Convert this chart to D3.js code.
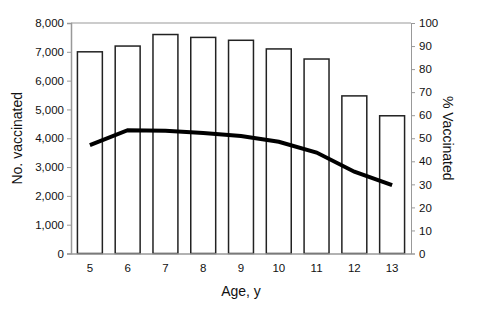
<!DOCTYPE html>
<html>
<head>
<meta charset="utf-8">
<script src="https://cdn.jsdelivr.net/npm/d3@7"></script>
<style>
  body { margin: 0; background: #fff; }
  svg { font-family: "Liberation Sans", Arial, sans-serif; }
  .axis text { font-size: 11.5px; fill: #111; }
  .axis path, .axis line { stroke: #999; }
  .title { font-size: 14px; fill: #111; }
</style>
</head>
<body>
<div id="chart"></div>
<script>
const ages = [5, 6, 7, 8, 9, 10, 11, 12, 13];
const vaccinated = [7000, 7200, 7600, 7500, 7400, 7100, 6750, 5470, 4780];
const pctVaccinated = [47, 53.5, 53.3, 52.3, 51, 48.5, 43.8, 35.5, 29.7];
const leftTicks = [0, 1000, 2000, 3000, 4000, 5000, 6000, 7000, 8000];
const rightTicks = [0, 10, 20, 30, 40, 50, 60, 70, 80, 90, 100];

const width = 480, height = 320;
const margin = { top: 23, right: 69, bottom: 66.5, left: 71 };
const w = width - margin.left - margin.right;
const h = height - margin.top - margin.bottom;

const svg = d3.select("#chart").append("svg")
    .attr("width", width)
    .attr("height", height);

const g = svg.append("g")
    .attr("transform", `translate(${margin.left},${margin.top})`);

const x = d3.scaleBand()
    .domain(ages)
    .range([0, w])
    .paddingInner(0.34)
    .paddingOuter(0.17);

const yLeft = d3.scaleLinear().domain([0, 8000]).range([h, 0]);
const yRight = d3.scaleLinear().domain([0, 100]).range([h, 0]);

// plot frame top line
g.append("line")
    .attr("x1", 0).attr("x2", w)
    .attr("y1", 0).attr("y2", 0)
    .attr("stroke", "#999");

g.selectAll(".bar")
    .data(ages)
    .enter().append("rect")
    .attr("class", "bar")
    .attr("x", d => x(d))
    .attr("y", (d, i) => yLeft(vaccinated[i]))
    .attr("width", x.bandwidth())
    .attr("height", (d, i) => h - yLeft(vaccinated[i]))
    .attr("fill", "#fff")
    .attr("stroke", "#222")
    .attr("stroke-width", 1.5);

g.append("g")
    .attr("class", "axis")
    .call(d3.axisLeft(yLeft)
        .tickValues(leftTicks)
        .tickSize(4)
        .tickPadding(3)
        .tickFormat(d3.format(",")))
    .call(a => a.select(".domain").attr("stroke-width", 1.5));

g.append("g")
    .attr("class", "axis")
    .attr("transform", `translate(${w},0)`)
    .call(d3.axisRight(yRight)
        .tickValues(rightTicks)
        .tickSize(4)
        .tickPadding(4));

g.append("g")
    .attr("class", "axis")
    .attr("transform", `translate(0,${h})`)
    .call(d3.axisBottom(x).tickSize(0).tickPadding(10))
    .call(a => a.select(".domain").attr("stroke-width", 1.5));

const line = d3.line()
    .x((d, i) => x(ages[i]) + x.bandwidth() / 2)
    .y(d => yRight(d));

g.append("path")
    .datum(pctVaccinated)
    .attr("fill", "none")
    .attr("stroke", "#000")
    .attr("stroke-width", 4)
    .attr("d", line);

svg.append("text")
    .attr("class", "title")
    .attr("text-anchor", "middle")
    .attr("transform", `translate(22,${margin.top + h / 2}) rotate(-90)`)
    .text("No. vaccinated");

svg.append("text")
    .attr("class", "title")
    .attr("text-anchor", "middle")
    .attr("transform", `translate(443,${margin.top + h / 2}) rotate(90)`)
    .text("% Vaccinated");

svg.append("text")
    .attr("class", "title")
    .attr("text-anchor", "middle")
    .attr("x", margin.left + w / 2)
    .attr("y", 296)
    .text("Age, y");
</script>
</body>
</html>
